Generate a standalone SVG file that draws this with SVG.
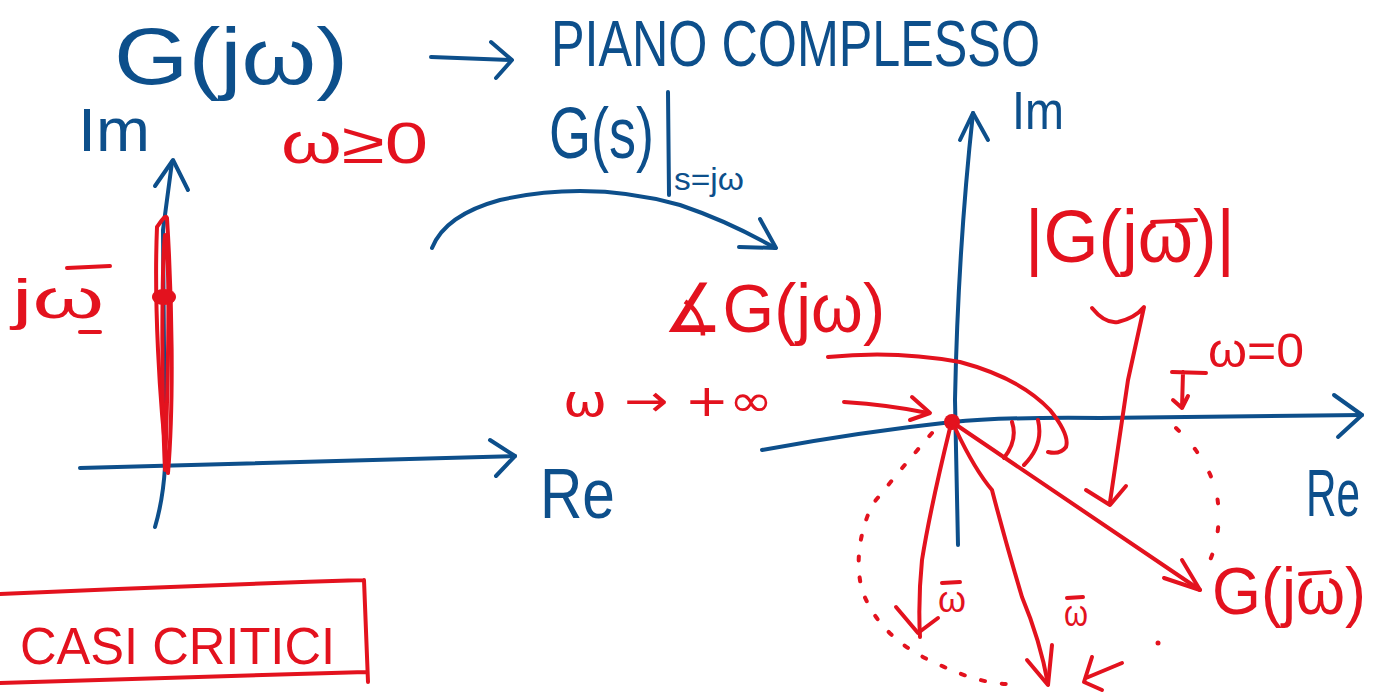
<svg xmlns="http://www.w3.org/2000/svg" width="1378" height="693" viewBox="0 0 1378 693">
<style>
.b{fill:none;stroke:#0d4f8b;stroke-width:4;stroke-linecap:round;stroke-linejoin:round}
.r{fill:none;stroke:#e3121e;stroke-width:4;stroke-linecap:round;stroke-linejoin:round}
.tb{fill:#0d4f8b;font-family:"Liberation Sans","DejaVu Sans",sans-serif}
.tr{fill:#e3121e;font-family:"Liberation Sans","DejaVu Sans",sans-serif}
.dv{font-family:"DejaVu Sans",sans-serif}
.dot{fill:#e3121e}
</style>
<rect width="1378" height="693" fill="#ffffff"/>

<g id="title">
<text class="tb" x="114" y="84" font-size="80" textLength="234" lengthAdjust="spacingAndGlyphs">G(jω)</text>
<text class="tb" x="551" y="66" font-size="64" textLength="489" lengthAdjust="spacingAndGlyphs">PIANO COMPLESSO</text>
</g>

<g id="mapping-label">
<text class="tb" x="549" y="158" font-size="72" textLength="105" lengthAdjust="spacingAndGlyphs">G(s)</text>
<path class="b" d="M668,92 L669,195"/>
<text class="tb" x="674" y="190" font-size="32" textLength="70" lengthAdjust="spacingAndGlyphs">s=jω</text>
</g>

<g id="left-plane">
<path class="b" d="M155,527 Q163,500 165,467 L163,230 L172,162"/>
<path class="b" d="M155,186 L173,160 L188,190"/>
<path class="b" d="M80,468 L515,456"/>
<path class="b" d="M490,440 L515,456 L496,476"/>
<text class="tb" x="78" y="151" font-size="62" textLength="72" lengthAdjust="spacingAndGlyphs">Im</text>
<text class="tb" x="540" y="518" font-size="70" textLength="75" lengthAdjust="spacingAndGlyphs">Re</text>
<path class="r" d="M168,473 C159,400 154,300 157,227 C162,220 166,214 167,218 C172,300 174,400 168,473"/>
<path class="r" d="M165,470 C161,380 162,260 165,235 C171,262 168,380 165,470"/>
<ellipse class="dot" cx="164" cy="297" rx="12" ry="8"/>
<text class="tr" x="12" y="318" font-size="56" textLength="92" lengthAdjust="spacingAndGlyphs">jω</text>
<path class="r" d="M67,268 L110,266 M80,332 L100,332"/>
<text class="tr" x="281" y="163" font-size="58" textLength="147" lengthAdjust="spacingAndGlyphs">ω≥0</text>
</g>

<g id="critical-box">
<path class="r" d="M0,594 Q180,586 364,580 M364,580 L368,682 M0,683 Q180,678 366,672"/>
<text class="tr" x="20" y="664" font-size="52" textLength="315" lengthAdjust="spacingAndGlyphs">CASI CRITICI</text>
</g>

<g id="right-plane">
<path class="b" d="M958,545 L955,400 Q958,250 973,113"/>
<path class="b" d="M960,140 L973,113 L988,140"/>
<path class="b" d="M762,450 Q860,432 952,422 Q1000,417 1100,418 L1362,415"/>
<path class="b" d="M1334,395 L1362,415 L1338,437"/>
<text class="tb" x="1012" y="129" font-size="54" textLength="52" lengthAdjust="spacingAndGlyphs">Im</text>
<text class="tb" transform="translate(1306,516) scale(1,1.25)" x="0" y="0" font-size="54" textLength="54" lengthAdjust="spacingAndGlyphs">Re</text>
<circle class="dot" cx="952" cy="422" r="8"/>
</g>

<g id="labels-right">
<text class="tr" x="1025" y="262" font-size="74" textLength="210" lengthAdjust="spacingAndGlyphs">|G(jω)|</text>
<path class="r" d="M1152,222 L1196,220"/>
<text class="tr" x="663" y="332" font-size="68" textLength="222" lengthAdjust="spacingAndGlyphs">∡G(jω)</text>
<text class="tr dv" x="563" y="416" font-size="44" textLength="210" lengthAdjust="spacingAndGlyphs">ω → +∞</text>
<text class="tr" x="1208" y="367" font-size="48" textLength="96" lengthAdjust="spacingAndGlyphs">ω=0</text>
<text class="tr" x="1212" y="614" font-size="66" textLength="154" lengthAdjust="spacingAndGlyphs">G(jω)</text>
<path class="r" d="M1300,574 L1330,572"/>
<text class="tr" x="938" y="612" font-size="36" textLength="28" lengthAdjust="spacingAndGlyphs">ω</text>
<path class="r" d="M942,583 L960,582"/>
<text class="tr" x="1064" y="626" font-size="36" textLength="24" lengthAdjust="spacingAndGlyphs">ω</text>
<path class="r" d="M1067,598 L1083,597"/>
</g>

<g id="connectors">
<path class="b" d="M431,57 L511,60"/>
<path class="b" d="M491,42 L512,60 L496,78"/>
<path class="b" d="M432,248 Q445,215 500,200 Q590,180 680,205 Q730,222 775,248"/>
<path class="b" d="M760,219 L776,248 L739,247"/>
<path class="r" d="M828,357 Q895,350 960,362 Q1020,378 1050,410 Q1070,435 1066,447 Q1060,455 1048,452"/>
<path class="r" d="M1012,422 Q1018,440 1004,458 M1038,420 Q1044,445 1024,465"/>
<path class="r" d="M844,402 Q890,405 928,413"/>
<path class="r" d="M912,397 L930,413 L910,420"/>
<path class="r" d="M952,422 L1200,590"/>
<path class="r" d="M1182,560 L1200,590 L1164,578"/>
<path class="r" d="M950,428 Q930,510 922,560 Q918,600 920,637"/>
<path class="r" d="M896,607 L918,633 L938,618"/>
<path class="r" d="M956,430 Q975,470 992,490 Q1005,540 1022,597 Q1040,640 1048,684"/>
<path class="r" d="M1027,660 L1048,685 L1052,645"/>
<path class="r" d="M1092,308 Q1105,324 1118,322 Q1135,318 1144,307 L1128,380 L1110,502"/>
<path class="r" d="M1086,490 L1110,505 L1126,486"/>
<path class="r" d="M1172,372 L1206,373 M1183,372 L1182,408 M1173,400 L1182,408 L1188,396"/>
<path class="r" d="M1122,663 L1086,678 M1092,657 L1084,682 L1102,690"/>
<path class="r" stroke-width="3.5" stroke-dasharray="4 17" d="M932,433 Q900,470 872,505 Q852,550 862,590 Q880,640 940,665 Q980,684 1010,684"/>
<path class="r" stroke-width="3.5" stroke-dasharray="4 24" d="M1176,428 Q1205,455 1216,490 Q1224,530 1208,565"/>
<circle class="dot" cx="1158" cy="643" r="2.5"/>
</g>
</svg>
